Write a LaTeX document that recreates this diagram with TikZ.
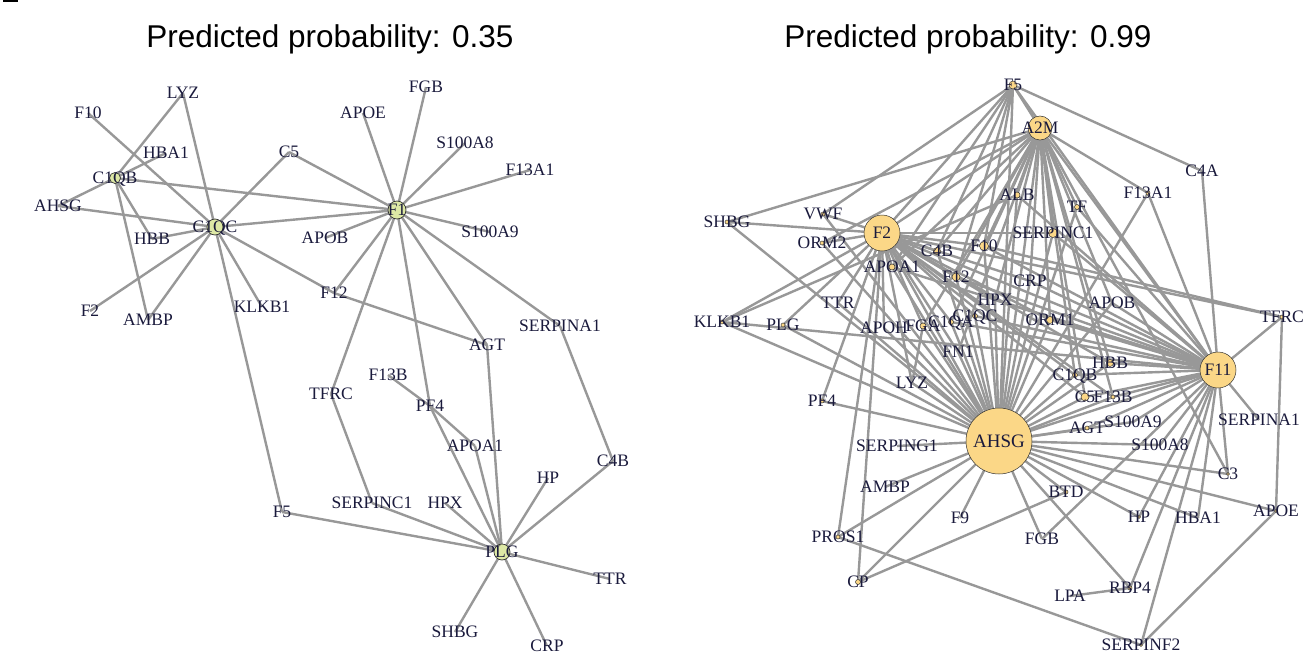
\documentclass[tikz,border=0pt]{standalone}
\usepackage{fontspec}
\setmainfont{Liberation Serif}
\newfontfamily\titlefont{Liberation Sans}
\definecolor{edgec}{RGB}{152,152,152}
\definecolor{labc}{RGB}{26,26,60}
\definecolor{gfill}{RGB}{221,232,165}
\definecolor{yfill}{RGB}{251,215,135}
\tikzset{
  edge/.style={draw=edgec,line width=2.4pt},
  lab/.style={text=labc,font=\fontsize{17.5}{18}\selectfont,inner sep=0pt,text depth=0pt},
  vtx/.style={draw=black!80,line width=0.7pt},
  ttl/.style={font=\titlefont\fontsize{31.5}{34}\selectfont,inner sep=0pt,anchor=base}
}
\begin{document}
\begin{tikzpicture}[x=1pt,y=-1pt]
\useasboundingbox (0,0) rectangle (1315,656);
\fill[white] (0,0) rectangle (1315,656);
\fill[black] (3,0) rectangle (18,1.5);
% titles
\node[ttl] (t1) at (330,47) {Predicted probability: 0.35};
\node[ttl] (t2) at (968,47) {Predicted probability: 0.99};
% ---------------- left network coordinates
\foreach \n/\x/\y in {LYZ/183/93,F10/88/113,HBA1/166/153,C1QB/115/178,AHSG/58/206,C1QC/215/227,HBB/152/239,C5/289/152,F2/90/311,AMBP/148/320,KLKB1/262/307,F12/334/293,FGB/426/87,APOE/363/113,S100A8/465/143,F13A1/530/170,F1/397/210,S100A9/490/232,APOB/325/238,SERPINA1/560/326,AGT/487/345,F13B/388/375,TFRC/331/394,PF4/430/406,APOA1/475/446,C4B/613/461,HP/548/478,F5/282/512,SERPINC1/372/503,HPX/445/503,PLG/502/552,TTR/610/579,SHBG/455/632,CRP/547/646}
  \coordinate (l\n) at (\x,\y);
% ---------------- right network coordinates
\foreach \n/\x/\y in {F5/1013/85,A2M/1040/128,C4A/1202/171,F13A1/1148/193,SHBG/727/222,VWF/823/214,ALB/1017/195,TF/1077/207,F2/882/233,SERPINC1/1053/233,ORM2/822/243,C4B/937/251,F10/984/246,APOA1/892/267,F12/956/277,CRP/1030/281,HPX/995/300,TTR/838/303,APOB/1112/303,TFRC/1282/317,KLKB1/722/322,PLG/783/325,APOH/884/328,FGA/923/326,C1QA/951/322,C1QC/975/316,ORM1/1050/320,FN1/958/352,HBB/1110/363,F11/1218/370,C1QB/1075/375,LYZ/912/383,C5/1085/397,F13B/1113/397,PF4/822/401,SERPINA1/1259/420,S100A9/1133/422,AGT/1087/428,AHSG/999/441,SERPING1/897/446,S100A8/1160/445,C3/1228/474,AMBP/885/487,BTD/1066/492,APOE/1276/511,HP/1139/517,F9/960/518,HBA1/1198/518,PROS1/838/537,FGB/1042/539,CP/858/582,RBP4/1130/588,LPA/1070/596,SERPINF2/1141/645}
  \coordinate (r\n) at (\x,\y);
% ---------------- left edges
\foreach \a/\b in {LYZ/C1QB,LYZ/C1QC,F10/C1QC,HBA1/C1QB,C1QB/AHSG,C1QB/F1,C1QB/HBB,C1QB/AMBP,AHSG/C1QC,HBB/C1QC,C1QC/C5,C1QC/F1,C1QC/F2,C1QC/AMBP,C1QC/KLKB1,C1QC/F12,C1QC/F5,F12/AGT,F12/F1,F1/APOE,F1/FGB,F1/S100A8,F1/F13A1,F1/S100A9,F1/APOB,F1/C5,F1/TFRC,F1/PF4,F1/AGT,F1/SERPINA1,SERPINA1/C4B,TFRC/SERPINC1,F13B/PF4,PF4/APOA1,PLG/F5,PLG/SERPINC1,PLG/HPX,PLG/PF4,PLG/APOA1,PLG/AGT,PLG/HP,PLG/C4B,PLG/TTR,PLG/CRP,PLG/SHBG}
  \draw[edge] (l\a) -- (l\b);
% ---------------- right edges
\foreach \b in {F2,A2M,F5,F11,SHBG,VWF,ORM2,KLKB1,PLG,TTR,APOH,FGA,C1QA,C1QC,FN1,LYZ,PF4,SERPING1,AMBP,PROS1,CP,F9,FGB,BTD,RBP4,HP,HBA1,APOE,C3,S100A8,S100A9,AGT,C5,F13B,C1QB,HBB,ORM1,CRP,HPX,F12,C4B,APOA1,F10,ALB,SERPINC1,TF,APOB,F13A1}
  \draw[edge] (rAHSG) -- (r\b);
\foreach \b in {A2M,F5,F11,SHBG,VWF,ORM2,KLKB1,PLG,TTR,APOA1,C4B,F10,F12,SERPINC1,PF4,PROS1,CP,APOH,FGA,C1QA,C1QC,FN1,LYZ,HPX,ORM1,C1QB,HBB,C5,TFRC,CRP,F13B}
  \draw[edge] (rF2) -- (r\b);
\foreach \b in {A2M,F5,C4A,F13A1,TFRC,SERPINA1,C3,S100A8,S100A9,AGT,C5,F13B,HBB,C1QB,HP,HBA1,RBP4,SERPINF2,FGB,APOB,ORM1,CRP,HPX,C1QC,C1QA,F12,F10,KLKB1,APOA1,SERPINC1,TF,ALB}
  \draw[edge] (rF11) -- (r\b);
\foreach \b in {F5,SHBG,F13A1,ALB,TF,SERPINC1,F10,C4B,APOA1,F12,CRP,HPX,ORM1,APOB,C1QB,HBB,C5,C3,F13B,ORM2,FGA,C1QA,FN1}
  \draw[edge] (rA2M) -- (r\b);
\foreach \a/\b in {F5/VWF,F5/C4B,F5/F12,F5/F10,F5/C4A,F5/APOA1,CP/BTD,PROS1/SERPINF2,APOE/SERPINF2,APOE/TFRC,TFRC/F10,RBP4/LPA,LYZ/FGA,KLKB1/ALB}
  \draw[edge] (r\a) -- (r\b);
% ---------------- vertex circles
\foreach \n/\r in {C1QB/5.5,C1QC/8,F1/9,PLG/8}
  \filldraw[vtx,fill=gfill] (l\n) circle[radius=\r];
\foreach \n/\r in {AHSG/33,F2/18,F11/18,A2M/12,F5/4,F10/4.5,F12/4,C4B/3.5,SERPINC1/4.5,ALB/3,C5/4,HBB/3.5,APOA1/3,FGA/3,ORM1/3.5,TF/2.5,C1QA/2.5,C1QC/2.5,C1QB/2.5,AGT/2,TFRC/2,F13A1/2,SHBG/2,KLKB1/2,PLG/2,PF4/2,PROS1/2,CP/2.5,BTD/2,RBP4/2,SERPINF2/1.5,HP/1.5,C3/1.5,APOE/1.5,VWF/2,ORM2/2,F13B/2}
  \filldraw[vtx,fill=yfill,line width=0.5pt] (r\n) circle[radius=\r];
% ---------------- labels
\foreach \n in {LYZ,F10,HBA1,C1QB,AHSG,C1QC,HBB,C5,F2,AMBP,KLKB1,F12,FGB,APOE,S100A8,F13A1,F1,S100A9,APOB,SERPINA1,AGT,F13B,TFRC,PF4,APOA1,C4B,HP,F5,SERPINC1,HPX,PLG,TTR,SHBG,CRP}
  \node[lab] (ll\n) at (l\n) {\n};
\foreach \n in {F5,A2M,C4A,F13A1,SHBG,VWF,ALB,TF,F2,SERPINC1,ORM2,C4B,F10,APOA1,F12,CRP,HPX,TTR,APOB,TFRC,KLKB1,PLG,APOH,FGA,C1QA,C1QC,ORM1,FN1,HBB,F11,C1QB,LYZ,C5,F13B,PF4,SERPINA1,S100A9,AGT,SERPING1,S100A8,C3,AMBP,BTD,APOE,HP,F9,HBA1,PROS1,FGB,CP,RBP4,LPA,SERPINF2}
  \node[lab] (rl\n) at (r\n) {\n};
\node[lab,font=\fontsize{19}{20}\selectfont] (rlAHSG) at (rAHSG) {AHSG};
\end{tikzpicture}
\end{document}
